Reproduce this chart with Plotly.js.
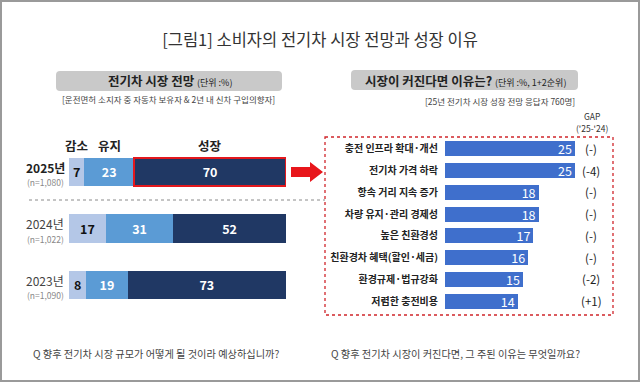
<!DOCTYPE html>
<html><head><meta charset="utf-8">
<script src="https://cdn.plot.ly/plotly-3.0.1.min.js"></script>
<style>html,body{margin:0;padding:0;background:#fff;} #chart{width:640px;height:382px;}</style>
</head><body><div id="chart"></div>
<script>
// ---- data ----
const years = ['2025년', '2024년', '2023년'];
const sampleSizes = ['(n=1,080)', '(n=1,022)', '(n=1,090)'];
const outlookCats = ['감소', '유지', '성장'];
const decrease = [7, 17, 8];
const maintain = [23, 31, 19];
const grow = [70, 52, 73];

const reasons = ['충전 인프라 확대·개선', '전기차 가격 하락', '항속 거리 지속 증가', '차량 유지·관리 경제성',
  '높은 친환경성', '친환경차 혜택(할인·세금)', '환경규제·법규강화', '저렴한 충전비용'];
const reasonValues = [25, 25, 18, 18, 17, 16, 15, 14];
const gapLabels = ['(-)', '(-4)', '(-)', '(-)', '(-)', '(-)', '(-2)', '(+1)'];

// ---- helpers ----
const W = 640, H = 382;
const px = x => x / W;
const py = y => 1 - y / H;
const FONT = '"Noto Sans CJK KR", "Noto Sans", sans-serif';

function rrect(x0, y0, x1, y1, r) {
  const X = v => (v / W).toFixed(5), Y = v => (1 - v / H).toFixed(5);
  return `M${X(x0 + r)},${Y(y0)} L${X(x1 - r)},${Y(y0)} Q${X(x1)},${Y(y0)} ${X(x1)},${Y(y0 + r)} ` +
    `L${X(x1)},${Y(y1 - r)} Q${X(x1)},${Y(y1)} ${X(x1 - r)},${Y(y1)} L${X(x0 + r)},${Y(y1)} ` +
    `Q${X(x0)},${Y(y1)} ${X(x0)},${Y(y1 - r)} L${X(x0)},${Y(y0 + r)} Q${X(x0)},${Y(y0)} ${X(x0 + r)},${Y(y0)} Z`;
}
function poly(pts) {
  return 'M' + pts.map(p => `${(p[0] / W).toFixed(5)},${(1 - p[1] / H).toFixed(5)}`).join(' L') + ' Z';
}

// ---- traces ----
const yIdx = years.map((_, i) => i);
const series = [decrease, maintain, grow];
const segColors = ['#b4c7e7', '#5b9bd5', '#203864'];
const segText = ['#111111', '#ffffff', '#ffffff'];
const traces = series.map((vals, k) => ({
  type: 'bar', orientation: 'h', name: outlookCats[k],
  x: vals, y: yIdx, xaxis: 'x', yaxis: 'y', width: 0.5,
  marker: {
    color: segColors[k],
    line: k === 2 ? { width: [2.5, 0, 0], color: ['#e3181d', 'rgba(0,0,0,0)', 'rgba(0,0,0,0)'] }
                  : { width: 0 }
  },
  texttemplate: '<b>%{x}</b>', textposition: 'inside', insidetextanchor: 'middle',
  constraintext: 'none', textangle: 0,
  textfont: { family: FONT, size: 12.5, color: segText[k] },
  hoverinfo: 'skip'
}));

const rIdx = reasons.map((_, i) => i);
traces.push({
  type: 'bar', orientation: 'h', x: reasonValues, y: rIdx, xaxis: 'x2', yaxis: 'y2', width: 0.69,
  marker: { color: '#3f6fcc' },
  texttemplate: '%{x}', textposition: 'inside', insidetextanchor: 'end', constraintext: 'none', textangle: 0,
  textfont: { family: FONT, size: 12.5, color: '#ffffff' },
  hoverinfo: 'skip'
});

// ---- annotations ----
const ann = [];
const t = (text, x, y, size, color, anchor, extra) => Object.assign({
  text, x: px(x), y: py(y), xref: 'paper', yref: 'paper', showarrow: false,
  xanchor: anchor || 'center', yanchor: 'middle', font: { family: FONT, size, color }
}, extra || {});

ann.push(t('<b>전기차 시장 전망</b> <span style="font-size:9px">(단위 :%)</span>', 169.5, 81, 12.5, '#222'));
ann.push(t('[운전면허 소지자 중 자동차 보유자 &amp; 2년 내 신차 구입의향자]', 168.5, 99, 8.5, '#444'));
ann.push(t('<b>시장이 커진다면 이유는?</b> <span style="font-size:9px">(단위 :%, 1+2순위)</span>', 465, 80, 12.5, '#222'));
ann.push(t('[25년 전기차 시장 성장 전망 응답자 760명]', 577, 101, 8.5, '#444', 'right'));
ann.push(t('GAP', 592, 116, 8.5, '#333'));
ann.push(t("('25-'24)", 592, 128.5, 8.5, '#333'));
ann.push(t('Q 향후 전기차 시장 규모가 어떻게 될 것이라 예상하십니까?', 31, 353, 10.2, '#444', 'left'));
ann.push(t('Q 향후 전기차 시장이 커진다면, 그 주된 이유는 무엇일까요?', 329, 353, 10.2, '#444', 'left'));

// column headers centred over the 2025 segments
let cum = 0;
series.forEach((vals, k) => {
  const c = cum + vals[0] / 2; cum += vals[0];
  ann.push({ text: '<b>' + outlookCats[k] + '</b>', x: c, xref: 'x', y: py(145), yref: 'paper',
    showarrow: false, xanchor: 'center', yanchor: 'middle', font: { family: FONT, size: 12.5, color: '#222' } });
});
// year labels
years.forEach((yr, i) => {
  ann.push({ text: i === 0 ? '<b>' + yr + '</b>' : yr, xref: 'paper', x: px(45), yref: 'y', y: i, yshift: 5,
    showarrow: false, xanchor: 'center', yanchor: 'middle', font: { family: FONT, size: 12, color: i === 0 ? '#222' : '#444' } });
  ann.push({ text: sampleSizes[i], xref: 'paper', x: px(45), yref: 'y', y: i, yshift: -10,
    showarrow: false, xanchor: 'center', yanchor: 'middle', font: { family: FONT, size: 8.5, color: '#888' } });
});
// GAP values
gapLabels.forEach((g, i) => {
  ann.push({ text: g, xref: 'paper', x: px(591), yref: 'y2', y: i, showarrow: false,
    xanchor: 'center', yanchor: 'middle', font: { family: FONT, size: 11.5, color: '#222' } });
});

// ---- shapes ----
const shapes = [
  { type: 'rect', xref: 'paper', yref: 'paper', x0: 0, x1: 1, y0: 0, y1: 1, line: { color: '#9a9a9a', width: 4 } },
  { type: 'path', xref: 'paper', yref: 'paper', path: rrect(56, 71, 282, 91, 4), fillcolor: '#c9c9c9', line: { width: 0 }, layer: 'below' },
  { type: 'path', xref: 'paper', yref: 'paper', path: rrect(351, 70, 578, 90, 4), fillcolor: '#c9c9c9', line: { width: 0 }, layer: 'below' },
  { type: 'line', xref: 'paper', yref: 'paper', x0: px(29), x1: px(325), y0: py(200), y1: py(200), line: { color: '#8a8a8a', width: 1, dash: 'dot' } },
  { type: 'rect', xref: 'paper', yref: 'paper', x0: px(325), x1: px(613), y0: py(137), y1: py(315), line: { color: '#d0262b', width: 1.3, dash: 'dot' } },
  { type: 'path', xref: 'paper', yref: 'paper', path: poly([[291, 167], [310, 167], [310, 162], [323, 172], [310, 182], [310, 177], [291, 177]]),
    fillcolor: '#e8161b', line: { width: 0 } }
];

const layout = {
  width: W, height: H, margin: { l: 0, r: 0, t: 0, b: 0 },
  paper_bgcolor: '#ffffff', plot_bgcolor: 'rgba(0,0,0,0)', showlegend: false, barmode: 'stack',
  title: { text: '[그림1] 소비자의 전기차 시장 전망과 성장 이유', x: 0.5, xanchor: 'center', y: py(40), yanchor: 'middle',
    font: { family: FONT, size: 16.5, color: '#333' } },
  xaxis: { domain: [px(69), px(286)], range: [0, 100], visible: false, fixedrange: true },
  yaxis: { domain: [py(313.25), py(143.75)], range: [2.5, -0.5], visible: false, fixedrange: true },
  xaxis2: { domain: [px(445), px(575)], range: [0, 25], visible: false, anchor: 'y2', fixedrange: true },
  yaxis2: { domain: [py(311.9), py(138.1)], range: [7.5, -0.5], anchor: 'x2', tickvals: rIdx,
    ticktext: reasons.map(r => '<b>' + r + '</b>'), ticks: 'outside', ticklen: 4, tickcolor: 'rgba(0,0,0,0)',
    showgrid: false, zeroline: false, showline: false, fixedrange: true,
    tickfont: { family: FONT, size: 10, color: '#222' } },
  annotations: ann, shapes: shapes
};

Plotly.newPlot('chart', traces, layout, { displayModeBar: false, staticPlot: true });
</script></body></html>
